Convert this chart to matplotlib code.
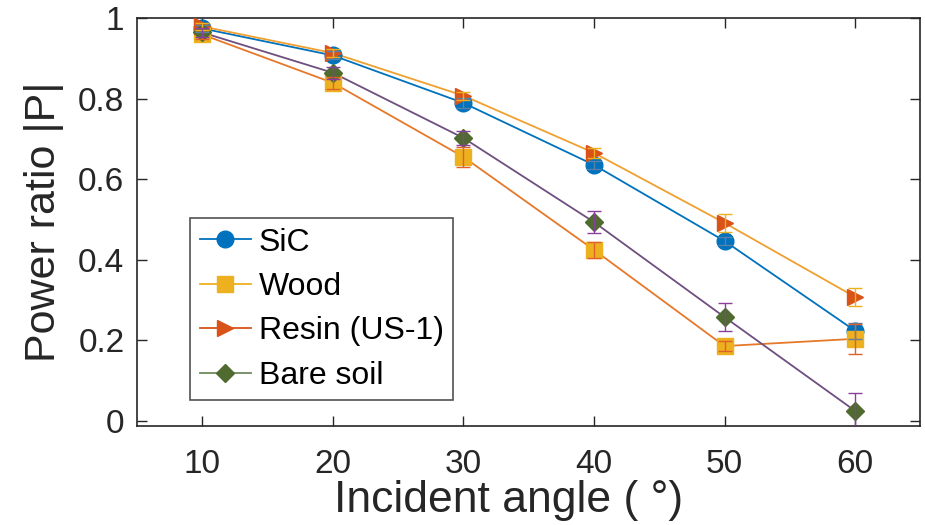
import matplotlib
matplotlib.use("Agg")
import matplotlib.pyplot as plt
from matplotlib.lines import Line2D

plt.rcParams['font.family'] = ['Liberation Sans', 'DejaVu Sans']

angles = [10, 20, 30, 40, 50, 60]
labels = ['SiC', 'Wood', 'Resin (US-1)', 'Bare soil']

sic = [0.975, 0.908, 0.79, 0.636, 0.447, 0.224]
wood = [0.96, 0.84, 0.656, 0.425, 0.186, 0.204]
resin = [0.98, 0.914, 0.808, 0.666, 0.492, 0.308]
soil = [0.965, 0.865, 0.703, 0.494, 0.258, 0.025]

sic_err = [0.008, 0.01, 0.012, 0.01, 0.01, 0.02]
wood_err = [0.01, 0.015, 0.025, 0.02, 0.012, 0.037]
resin_err = [0.008, 0.01, 0.01, 0.012, 0.022, 0.022]
soil_err = [0.012, 0.015, 0.018, 0.027, 0.034, 0.045]

values = [sic, wood, resin, soil]
errors = [sic_err, wood_err, resin_err, soil_err]
marker_colors = ['#0072BD', '#EDB120', '#D95319', '#4F6B2F']
line_colors = ['#0072BD', '#E6782A', '#F0A030', '#6E4F7E']
err_colors = ['#5A7FA8', '#E0602A', '#EDB120', '#8A3F9E']
legend_line = ['#0072BD', '#EDB120', '#D95319', '#6F8A5E']
markers = ['o', 's', '>', 'D']
msizes = [12, 11, 12, 9]

fig = plt.figure(figsize=(9.25, 5.25), dpi=100)
ax = fig.add_axes([0.148, 0.189, 0.847, 0.776])

for v, e, mc, lc, ec, m, ms in zip(values, errors, marker_colors, line_colors,
                                   err_colors, markers, msizes):
    ax.plot(angles, v, color=lc, lw=1.3, zorder=2)
    ax.plot(angles, v, ls='none', marker=m, ms=ms, color=mc, mec=mc, zorder=3)
    ax.errorbar(angles, v, yerr=e, fmt='none', ecolor=ec, elinewidth=1.0,
                capsize=5, capthick=1.0, zorder=4)

ax.set_xlim(5, 65)
ax.set_ylim(-0.012, 1)
ax.set_xticks(angles)
ax.set_yticks([0, 0.2, 0.4, 0.6, 0.8, 1])
ax.set_yticklabels(['0', '0.2', '0.4', '0.6', '0.8', '1'])
ax.tick_params(labelsize=24, direction='in', length=7, width=1, colors='#262626',
               top=True, right=True)
ax.tick_params(axis='x', pad=17)
ax.tick_params(axis='y', pad=9)
for s in ax.spines.values():
    s.set_color('#262626')
    s.set_linewidth(1.2)

ax.set_xlabel('Incident angle ( °)', fontsize=32, labelpad=0, color='#262626')
ax.xaxis.label.set_x(0.475)
ax.set_ylabel('Power ratio |P|', fontsize=31, labelpad=10, color='#262626')

handles = [Line2D([0], [0], color=lc, marker=m, ms=ms, mfc=mc, mec=mc, lw=1.3)
           for lc, mc, m, ms in zip(legend_line, marker_colors, markers, msizes)]
leg = ax.legend(handles, labels, loc='upper left', bbox_to_anchor=(0.068, 0.51),
                fontsize=23, frameon=True, fancybox=False, edgecolor='#262626',
                borderaxespad=0, handlelength=1.6, handletextpad=0.25,
                labelspacing=0.45, borderpad=0.3)
leg.get_frame().set_linewidth(1.2)

fig.savefig('out.png', dpi=100)
